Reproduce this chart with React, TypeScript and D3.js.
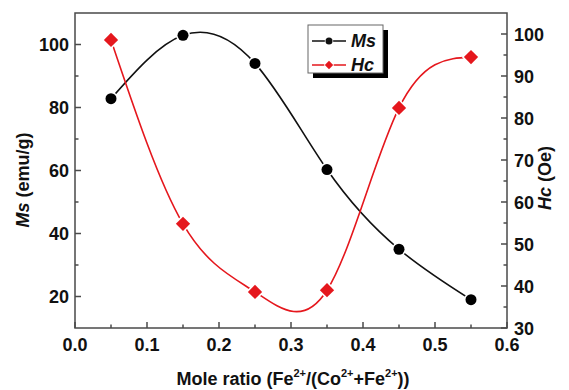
import React, { useEffect, useRef } from 'react';
import * as d3 from 'd3';

const ratios = [0.05, 0.15, 0.25, 0.35, 0.45, 0.55];
const msValues = [82.8, 102.9, 94, 60.3, 35, 19];
const hcValues = [98.6, 54.8, 38.6, 39, 82.4, 94.5];
const xTicks = [0, 0.1, 0.2, 0.3, 0.4, 0.5, 0.6];
const msTicks = [20, 40, 60, 80, 100];
const hcTicks = [30, 40, 50, 60, 70, 80, 90, 100];

const W = 569, H = 390;
const m = { left: 75, right: 62, top: 13, bottom: 62 };
const RED = '#e5171d';
const AXIS = '#4a4a4a';
const FONT = '"Liberation Sans", Arial, sans-serif';

const App = () => {
  const ref = useRef<SVGSVGElement>(null);

  useEffect(() => {
    const svg = d3.select(ref.current);
    svg.selectAll('*').remove();

    const x = d3.scaleLinear().domain([0, 0.6]).range([m.left, W - m.right]);
    const yMs = d3.scaleLinear().domain([10, 110]).range([H - m.bottom, m.top]);
    const yHc = d3.scaleLinear().domain([30, 105]).range([H - m.bottom, m.top]);

    // frame
    svg.append('rect')
      .attr('x', m.left).attr('y', m.top)
      .attr('width', W - m.left - m.right).attr('height', H - m.top - m.bottom)
      .attr('fill', 'none').attr('stroke', AXIS).attr('stroke-width', 1.5);

    const bottom = H - m.bottom;
    const g = svg.append('g').attr('stroke', AXIS).attr('stroke-width', 1.5);

    // x ticks (inward) + minor
    xTicks.forEach(t => g.append('line').attr('x1', x(t)).attr('x2', x(t)).attr('y1', bottom).attr('y2', bottom - 6));
    d3.range(0.05, 0.6, 0.1).forEach(t => g.append('line').attr('x1', x(t)).attr('x2', x(t)).attr('y1', bottom).attr('y2', bottom - 3.5));
    // left ticks
    msTicks.forEach(t => g.append('line').attr('x1', m.left).attr('x2', m.left + 6).attr('y1', yMs(t)).attr('y2', yMs(t)));
    [30, 50, 70, 90].forEach(t => g.append('line').attr('x1', m.left).attr('x2', m.left + 3.5).attr('y1', yMs(t)).attr('y2', yMs(t)));
    // right ticks
    const rx = W - m.right;
    hcTicks.forEach(t => g.append('line').attr('x1', rx).attr('x2', rx - 6).attr('y1', yHc(t)).attr('y2', yHc(t)));
    d3.range(35, 105, 10).forEach(t => g.append('line').attr('x1', rx).attr('x2', rx - 3.5).attr('y1', yHc(t)).attr('y2', yHc(t)));

    const txt = svg.append('g').attr('font-family', FONT).attr('font-weight', 'bold').attr('font-size', 18).attr('fill', '#111');
    xTicks.forEach(t => txt.append('text').attr('x', x(t)).attr('y', bottom + 23).attr('text-anchor', 'middle').text(t.toFixed(1)));
    msTicks.forEach(t => txt.append('text').attr('x', m.left - 6).attr('y', yMs(t) + 6.5).attr('text-anchor', 'end').text(t));
    hcTicks.forEach(t => txt.append('text').attr('x', rx + 7).attr('y', yHc(t) + 6.5).attr('text-anchor', 'start').text(t));

    // axis titles
    const lt = txt.append('text').attr('transform', 'translate(29,180) rotate(-90)').attr('text-anchor', 'middle');
    lt.append('tspan').attr('font-style', 'italic').text('Ms');
    lt.append('tspan').text(' (emu/g)');
    const rt = txt.append('text').attr('transform', 'translate(551,178) rotate(-90)').attr('text-anchor', 'middle');
    rt.append('tspan').attr('font-style', 'italic').text('Hc');
    rt.append('tspan').text(' (Oe)');

    const xl = txt.append('text').attr('x', 293).attr('y', 385).attr('text-anchor', 'middle').attr('font-size', 18);
    xl.append('tspan').text('Mole ratio (Fe');
    xl.append('tspan').attr('dy', -8).attr('font-size', 11).text('2+');
    xl.append('tspan').attr('dy', 8).text('/(Co');
    xl.append('tspan').attr('dy', -8).attr('font-size', 11).text('2+');
    xl.append('tspan').attr('dy', 8).text('+Fe');
    xl.append('tspan').attr('dy', -8).attr('font-size', 11).text('2+');
    xl.append('tspan').attr('dy', 8).text('))');

    // curves
    const msLine = d3.line<number>().x((_, i) => x(ratios[i])).y(d => yMs(d)).curve(d3.curveNatural);
    const hcLine = d3.line<number>().x((_, i) => x(ratios[i])).y(d => yHc(d)).curve(d3.curveNatural);
    svg.append('path').attr('d', msLine(msValues)).attr('fill', 'none').attr('stroke', '#111').attr('stroke-width', 1.6);
    svg.append('path').attr('d', hcLine(hcValues)).attr('fill', 'none').attr('stroke', RED).attr('stroke-width', 1.6);

    const diamond = d3.symbol().type(d3.symbolDiamond2).size(130);
    svg.append('g').selectAll('circle').data(msValues).join('circle')
      .attr('cx', (_, i) => x(ratios[i])).attr('cy', d => yMs(d)).attr('r', 5.5)
      .attr('fill', '#000').attr('stroke', '#fff').attr('stroke-width', 3).attr('paint-order', 'stroke');
    svg.append('g').selectAll('path').data(hcValues).join('path')
      .attr('transform', (d, i) => `translate(${x(ratios[i])},${yHc(d)})`).attr('d', diamond)
      .attr('fill', RED).attr('stroke', '#fff').attr('stroke-width', 3).attr('paint-order', 'stroke');

    // legend
    const lg = svg.append('g').attr('transform', 'translate(308,25)');
    lg.append('rect').attr('x', 5).attr('y', 5).attr('width', 75).attr('height', 48).attr('fill', '#000');
    lg.append('rect').attr('x', 0).attr('y', 0).attr('width', 75).attr('height', 48).attr('fill', '#fff').attr('stroke', '#666').attr('stroke-width', 1);
    const items = [{ name: 'Ms', color: '#111', y: 16 }, { name: 'Hc', color: RED, y: 40 }];
    items.forEach(it => {
      lg.append('line').attr('x1', 4).attr('x2', 38).attr('y1', it.y).attr('y2', it.y).attr('stroke', it.color).attr('stroke-width', 1.6);
      if (it.name === 'Ms') lg.append('circle').attr('cx', 21).attr('cy', it.y).attr('r', 3.5).attr('fill', it.color).attr('stroke', '#fff').attr('stroke-width', 1.5).attr('paint-order', 'stroke');
      else lg.append('path').attr('transform', `translate(21,${it.y})`).attr('d', d3.symbol().type(d3.symbolDiamond2).size(45)()).attr('fill', it.color).attr('stroke', '#fff').attr('stroke-width', 1.5).attr('paint-order', 'stroke');
      lg.append('text').attr('x', 43).attr('y', it.y + 6).attr('font-family', FONT).attr('font-weight', 'bold').attr('font-style', 'italic').attr('font-size', 18).attr('fill', '#111').text(it.name);
    });
  }, []);

  return <svg ref={ref} width={W} height={H} style={{ position: 'absolute', left: 0, top: 0, background: '#fff' }} />;
};

export default App;
